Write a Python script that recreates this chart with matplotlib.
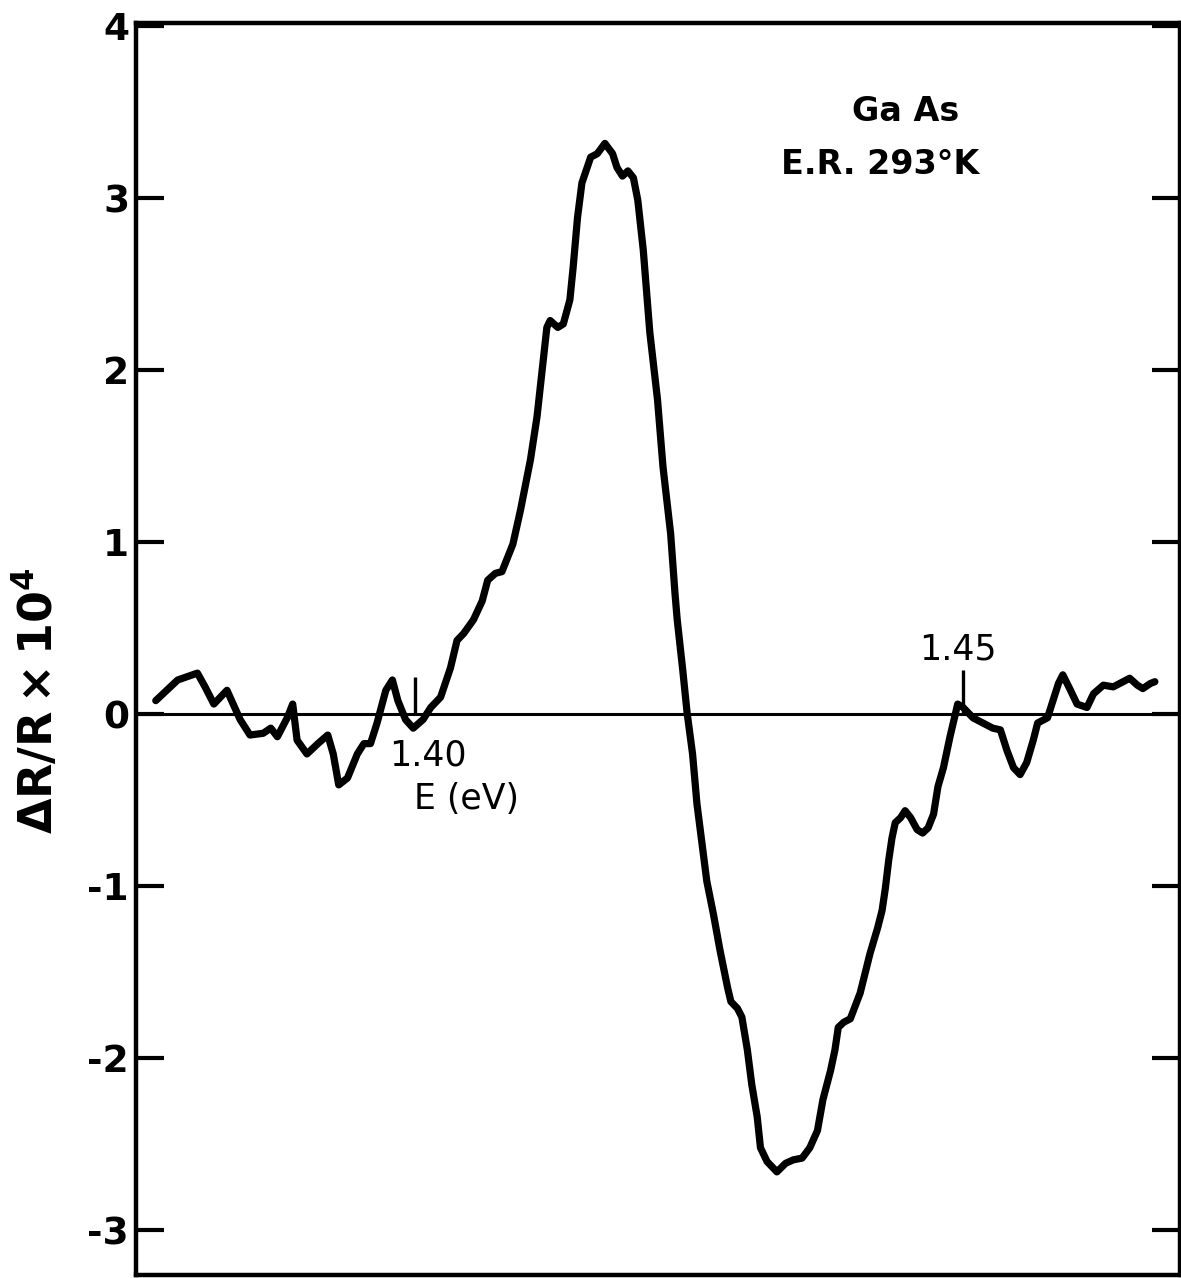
import matplotlib.pyplot as plt

# энергия фотона (eV) и сигнал электроотражения dR/R * 10^4
energy = [1.3763, 1.3783, 1.3801, 1.3808, 1.3816, 1.3828, 1.3840, 1.3849, 1.3861, 1.3868,
          1.3874, 1.3883, 1.3888, 1.3892, 1.3901, 1.3911, 1.3920, 1.3925, 1.3930, 1.3938,
          1.3947, 1.3953, 1.3959, 1.3965, 1.3973, 1.3979, 1.3984, 1.3991, 1.3998, 1.4007,
          1.4014, 1.4023, 1.4032, 1.4038, 1.4044, 1.4053, 1.4061, 1.4066, 1.4073, 1.4079,
          1.4089, 1.4096, 1.4105, 1.4111, 1.4116, 1.4120, 1.4123, 1.4130, 1.4135, 1.4141,
          1.4144, 1.4148, 1.4152, 1.4160, 1.4166, 1.4173, 1.4180, 1.4184, 1.4189, 1.4194,
          1.4199, 1.4203, 1.4208, 1.4214, 1.4221, 1.4226, 1.4233, 1.4237, 1.4239, 1.4244,
          1.4248, 1.4253, 1.4257, 1.4262, 1.4266, 1.4272, 1.4278, 1.4285, 1.4288, 1.4294,
          1.4298, 1.4303, 1.4307, 1.4312, 1.4315, 1.4321, 1.4330, 1.4338, 1.4345, 1.4353,
          1.4360, 1.4367, 1.4372, 1.4379, 1.4383, 1.4386, 1.4391, 1.4397, 1.4406, 1.4415,
          1.4422, 1.4426, 1.4429, 1.4432, 1.4435, 1.4438, 1.4443, 1.4447, 1.4452, 1.4458,
          1.4463, 1.4468, 1.4473, 1.4477, 1.4482, 1.4488, 1.4495, 1.4500, 1.4509, 1.4518,
          1.4527, 1.4534, 1.4540, 1.4546, 1.4552, 1.4558, 1.4564, 1.4568, 1.4577, 1.4582,
          1.4587, 1.4591, 1.4598, 1.4604, 1.4613, 1.4619, 1.4628, 1.4637, 1.4646, 1.4652,
          1.4659, 1.4664, 1.4671, 1.4675]
signal = [0.08, 0.20, 0.24, 0.16, 0.06, 0.14, -0.03, -0.12, -0.11, -0.08,
          -0.13, -0.02, 0.06, -0.15, -0.23, -0.17, -0.12, -0.23, -0.41, -0.37,
          -0.23, -0.17, -0.17, -0.05, 0.14, 0.20, 0.08, -0.03, -0.08, -0.03,
          0.04, 0.10, 0.27, 0.43, 0.47, 0.55, 0.66, 0.78, 0.82, 0.83,
          0.99, 1.19, 1.48, 1.73, 2.02, 2.25, 2.29, 2.25, 2.27, 2.41,
          2.60, 2.89, 3.09, 3.24, 3.26, 3.32, 3.26, 3.18, 3.13, 3.16,
          3.12, 2.99, 2.70, 2.22, 1.83, 1.44, 1.05, 0.70, 0.55, 0.26,
          0.01, -0.23, -0.52, -0.77, -0.97, -1.16, -1.37, -1.59, -1.67, -1.71,
          -1.76, -1.95, -2.15, -2.34, -2.52, -2.60, -2.66, -2.61, -2.59, -2.58,
          -2.52, -2.42, -2.24, -2.07, -1.95, -1.82, -1.79, -1.77, -1.62, -1.39,
          -1.24, -1.14, -1.01, -0.85, -0.72, -0.63, -0.60, -0.56, -0.60, -0.67,
          -0.69, -0.66, -0.58, -0.42, -0.31, -0.13, 0.06, 0.04, -0.02, -0.05,
          -0.08, -0.09, -0.21, -0.31, -0.35, -0.28, -0.15, -0.05, -0.02, 0.08,
          0.18, 0.23, 0.14, 0.06, 0.04, 0.12, 0.17, 0.16, 0.19, 0.21,
          0.17, 0.15, 0.18, 0.19]

y_ticks = [4, 3, 2, 1, 0, -1, -2, -3]
y_ticklabels = ['4', '3', '2', '1', '0', '-1', '-2', '-3']
e_marks = [1.40, 1.45]
e_marklabels = ['1.40', '1.45']

plt.rcParams['axes.unicode_minus'] = False
fig = plt.figure(figsize=(11.81, 12.78), dpi=100)
ax = fig.add_axes([0.1152, 0.0023, 0.884, 0.9797])

ax.plot(energy, signal, color='black', lw=5.2,
        solid_joinstyle='round', solid_capstyle='round')
ax.axhline(0, color='black', lw=2.2)

# метки энергии прямо на нулевой линии
ax.vlines(e_marks[0], 0, 0.22, color='black', lw=2.4)
ax.vlines(e_marks[1], 0, 0.26, color='black', lw=2.4)
ax.text(1.4011, -0.24, e_marklabels[0], fontsize=25, ha='center', va='center')
ax.text(1.4495, 0.38, e_marklabels[1], fontsize=25, ha='center', va='center')
ax.text(1.4047, -0.49, 'E (eV)', fontsize=25, ha='center', va='center')

ax.text(0.737, 0.929, 'Ga As', transform=ax.transAxes, fontsize=24,
        fontweight='bold', ha='center', va='center')
ax.text(0.713, 0.887, 'E.R. 293°K', transform=ax.transAxes, fontsize=24,
        fontweight='bold', ha='center', va='center')

ax.set_xlim(1.3745, 1.4698)
ax.set_ylim(-3.26, 4.02)
ax.set_yticks(y_ticks)
ax.set_yticklabels(y_ticklabels, fontsize=27, fontweight='bold')
ax.set_xticks([])
ax.tick_params(axis='y', direction='in', length=20, width=3, pad=5,
               left=True, right=True)
for s in ax.spines.values():
    s.set_linewidth(3.2)

ax.set_ylabel(r'$\mathbf{\Delta R/R \times 10^4}$', fontsize=33)
ax.yaxis.set_label_coords(-0.07, 0.459)

fig.savefig('out.png', dpi=100)
